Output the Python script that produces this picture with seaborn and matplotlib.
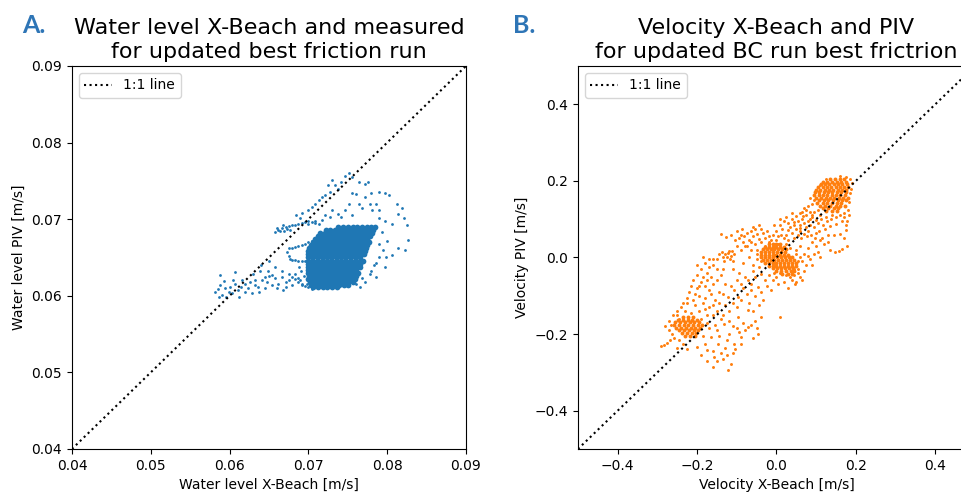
import matplotlib
matplotlib.use("Agg")
import matplotlib.pyplot as plt
import seaborn as sns
import pandas as pd

# ---------------- Panel A data (water level, m/s as labelled) ----------------
one_to_one_a = [0.04, 0.09]

# dense core of panel A, read row by row: (PIV value, X-Beach values)
a_core_rows = [
    (0.0690, [0.0738, 0.0744, 0.0750, 0.0756, 0.0762, 0.0768, 0.0774, 0.0780, 0.0785]),
    (0.0686, [0.0722, 0.0728, 0.0734, 0.0740, 0.0746, 0.0752, 0.0758, 0.0764, 0.0770, 0.0776, 0.0782]),
    (0.0682, [0.0715, 0.0721, 0.0727, 0.0733, 0.0739, 0.0745, 0.0751, 0.0757, 0.0763, 0.0769, 0.0775, 0.0781]),
    (0.0678, [0.0712, 0.0718, 0.0724, 0.0730, 0.0736, 0.0742, 0.0748, 0.0754, 0.0760, 0.0766, 0.0772, 0.0778]),
    (0.0674, [0.0709, 0.0715, 0.0721, 0.0727, 0.0733, 0.0739, 0.0745, 0.0751, 0.0757, 0.0763, 0.0769, 0.0775]),
    (0.0670, [0.0706, 0.0712, 0.0718, 0.0724, 0.0730, 0.0736, 0.0742, 0.0748, 0.0754, 0.0760, 0.0766, 0.0772, 0.0777]),
    (0.0666, [0.0703, 0.0709, 0.0715, 0.0721, 0.0727, 0.0733, 0.0739, 0.0745, 0.0751, 0.0757, 0.0763, 0.0769, 0.0775]),
    (0.0662, [0.0701, 0.0707, 0.0713, 0.0719, 0.0725, 0.0731, 0.0737, 0.0743, 0.0749, 0.0755, 0.0761, 0.0767, 0.0773]),
    (0.0658, [0.0700, 0.0706, 0.0712, 0.0718, 0.0724, 0.0730, 0.0736, 0.0742, 0.0748, 0.0754, 0.0760, 0.0766, 0.0772]),
    (0.0654, [0.0699, 0.0705, 0.0711, 0.0717, 0.0723, 0.0729, 0.0735, 0.0741, 0.0747, 0.0753, 0.0759, 0.0765, 0.0770]),
    (0.0650, [0.0700, 0.0706, 0.0712, 0.0718, 0.0724, 0.0730, 0.0736, 0.0742, 0.0748, 0.0754, 0.0760, 0.0766]),
    (0.0646, [0.0699, 0.0705, 0.0711, 0.0717, 0.0723, 0.0729, 0.0735, 0.0741, 0.0747, 0.0753, 0.0759, 0.0765, 0.0769]),
    (0.0642, [0.0700, 0.0706, 0.0712, 0.0718, 0.0724, 0.0730, 0.0736, 0.0742, 0.0748, 0.0754, 0.0760, 0.0766]),
    (0.0638, [0.0699, 0.0705, 0.0711, 0.0717, 0.0723, 0.0729, 0.0735, 0.0741, 0.0747, 0.0753, 0.0759, 0.0765]),
    (0.0634, [0.0700, 0.0706, 0.0712, 0.0718, 0.0724, 0.0730, 0.0736, 0.0742, 0.0748, 0.0754, 0.0760]),
    (0.0630, [0.0699, 0.0705, 0.0711, 0.0717, 0.0723, 0.0729, 0.0735, 0.0741, 0.0747, 0.0753, 0.0759, 0.0763]),
    (0.0626, [0.0701, 0.0707, 0.0713, 0.0719, 0.0725, 0.0731, 0.0737, 0.0743, 0.0749, 0.0755, 0.0761]),
    (0.0622, [0.0700, 0.0706, 0.0712, 0.0718, 0.0724, 0.0730, 0.0736, 0.0742, 0.0748, 0.0754, 0.0759]),
    (0.0618, [0.0702, 0.0708, 0.0714, 0.0720, 0.0726, 0.0732, 0.0738, 0.0744, 0.0750, 0.0756]),
    (0.0614, [0.0703, 0.0709, 0.0715, 0.0721, 0.0727, 0.0733, 0.0739, 0.0745, 0.0750]),
    (0.0611, [0.0706, 0.0712, 0.0718, 0.0724, 0.0730, 0.0736]),
]

a_sparse_x = [
    0.0747, 0.0755, 0.0764, 0.0776, 0.0772, 0.0730, 0.0734, 0.0738, 0.0721, 0.0727, 0.0717, 0.0713,
    0.0742, 0.0751, 0.0725, 0.0709, 0.0704, 0.0700,
    0.0755, 0.0761, 0.0772, 0.0780, 0.0789, 0.0797, 0.0802, 0.0751, 0.0764, 0.0778, 0.0786, 0.0768,
    0.0781, 0.0789, 0.0812, 0.0819, 0.0814, 0.0821, 0.0825, 0.0797, 0.0806, 0.0789, 0.0827, 0.0814,
    0.0823, 0.0806, 0.0799, 0.0789, 0.0797, 0.0786, 0.0778, 0.0768, 0.0761, 0.0793, 0.0800, 0.0790,
    0.0795, 0.0786, 0.0783, 0.0779, 0.0772, 0.0765,
    0.0730, 0.0738, 0.0742, 0.0755, 0.0728, 0.0721, 0.0717, 0.0709, 0.0700, 0.0690, 0.0684, 0.0692, 0.0746,
    0.0662, 0.0666, 0.0671, 0.0675, 0.0679, 0.0683, 0.0687, 0.0692, 0.0696, 0.0700, 0.0704, 0.0709,
    0.0713, 0.0664, 0.0669, 0.0673, 0.0668, 0.0677, 0.0658, 0.0660,
    0.0675, 0.0679, 0.0683, 0.0687, 0.0692, 0.0696, 0.0700, 0.0704, 0.0709, 0.0713, 0.0673, 0.0675,
    0.0677, 0.0679, 0.0683, 0.0687, 0.0692, 0.0696, 0.0688, 0.0691, 0.0694,
    0.0683, 0.0687, 0.0692, 0.0696, 0.0700, 0.0704, 0.0690, 0.0698,
    0.0582, 0.0588, 0.0594, 0.0601, 0.0607, 0.0611, 0.0620, 0.0624, 0.0632, 0.0641, 0.0645, 0.0654,
    0.0658, 0.0666, 0.0671, 0.0675, 0.0679, 0.0654, 0.0637, 0.0628, 0.0620, 0.0603, 0.0590, 0.0586,
    0.0599, 0.0616, 0.0649, 0.0658, 0.0666, 0.0675, 0.0683, 0.0687, 0.0662, 0.0679, 0.0671, 0.0692,
    0.0645, 0.0588, 0.0607, 0.0630, 0.0640, 0.0650, 0.0632, 0.0612, 0.0596,
    0.0615, 0.0626, 0.0636, 0.0647, 0.0660, 0.0668, 0.0604, 0.0593, 0.0585, 0.0650, 0.0639,
]
a_sparse_y = [
    0.0757, 0.0755, 0.0749, 0.0749, 0.0746, 0.0751, 0.0744, 0.0740, 0.0731, 0.0736, 0.0729, 0.0725,
    0.0748, 0.0760, 0.0744, 0.0720, 0.0716, 0.0712,
    0.0734, 0.0733, 0.0729, 0.0734, 0.0736, 0.0734, 0.0731, 0.0720, 0.0720, 0.0720, 0.0720, 0.0714,
    0.0712, 0.0712, 0.0720, 0.0714, 0.0707, 0.0701, 0.0692, 0.0697, 0.0694, 0.0701, 0.0673, 0.0662,
    0.0660, 0.0653, 0.0651, 0.0651, 0.0638, 0.0625, 0.0629, 0.0623, 0.0616, 0.0683, 0.0672, 0.0667,
    0.0660, 0.0643, 0.0640, 0.0633, 0.0618, 0.0612,
    0.0712, 0.0707, 0.0703, 0.0705, 0.0703, 0.0705, 0.0699, 0.0697, 0.0694, 0.0701, 0.0705, 0.0708, 0.0712,
    0.0686, 0.0688, 0.0690, 0.0691, 0.0692, 0.0693, 0.0694, 0.0695, 0.0696, 0.0697, 0.0696, 0.0695,
    0.0694, 0.0684, 0.0685, 0.0687, 0.0692, 0.0686, 0.0683, 0.0688,
    0.0662, 0.0663, 0.0664, 0.0665, 0.0666, 0.0668, 0.0670, 0.0671, 0.0673, 0.0675, 0.0657, 0.0652,
    0.0648, 0.0647, 0.0647, 0.0646, 0.0646, 0.0645, 0.0638, 0.0632, 0.0626,
    0.0622, 0.0618, 0.0615, 0.0613, 0.0611, 0.0609, 0.0620, 0.0616,
    0.0605, 0.0614, 0.0610, 0.0612, 0.0616, 0.0607, 0.0616, 0.0610, 0.0614, 0.0620, 0.0625, 0.0627,
    0.0623, 0.0625, 0.0618, 0.0620, 0.0625, 0.0614, 0.0605, 0.0603, 0.0605, 0.0603, 0.0601, 0.0599,
    0.0605, 0.0620, 0.0633, 0.0638, 0.0633, 0.0629, 0.0629, 0.0623, 0.0616, 0.0614, 0.0612, 0.0614,
    0.0610, 0.0627, 0.0631, 0.0628, 0.0640, 0.0645, 0.0620, 0.0598, 0.0598,
    0.0611, 0.0618, 0.0611, 0.0618, 0.0610, 0.0608, 0.0621, 0.0619, 0.0609, 0.0626, 0.0633,
]

# ---------------- Panel B data (velocity, m/s) ----------------
one_to_one_b = [-0.5, 0.5]

b_dense_rows = [
    # top-right cluster
    (0.205, [0.135, 0.148, 0.160, 0.170]),
    (0.198, [0.118, 0.128, 0.140, 0.152, 0.163, 0.175]),
    (0.191, [0.112, 0.122, 0.133, 0.144, 0.155, 0.166, 0.178]),
    (0.184, [0.105, 0.116, 0.127, 0.138, 0.149, 0.160, 0.171, 0.181]),
    (0.177, [0.100, 0.110, 0.121, 0.132, 0.143, 0.154, 0.165, 0.176]),
    (0.170, [0.098, 0.108, 0.119, 0.130, 0.141, 0.152, 0.163, 0.174]),
    (0.163, [0.095, 0.106, 0.117, 0.128, 0.139, 0.150, 0.161, 0.172]),
    (0.156, [0.100, 0.112, 0.124, 0.135, 0.146, 0.157, 0.168, 0.179]),
    (0.149, [0.108, 0.120, 0.131, 0.143, 0.154, 0.165, 0.176]),
    (0.142, [0.103, 0.116, 0.128, 0.140, 0.152, 0.163]),
    (0.135, [0.110, 0.123, 0.136, 0.149, 0.160, 0.172]),
    (0.128, [0.118, 0.131, 0.144, 0.156]),
    (0.121, [0.125, 0.140, 0.152]),
    # middle cluster
    (0.035, [-0.020, -0.010, 0.000, 0.010]),
    (0.028, [-0.030, -0.020, -0.010, 0.000, 0.010, 0.018]),
    (0.021, [-0.035, -0.025, -0.015, -0.005, 0.005, 0.015, 0.025]),
    (0.014, [-0.038, -0.028, -0.018, -0.008, 0.002, 0.012, 0.022]),
    (0.007, [-0.040, -0.030, -0.020, -0.010, 0.000, 0.010, 0.020, 0.030]),
    (0.000, [-0.038, -0.028, -0.018, -0.008, 0.002, 0.012, 0.022, 0.032, 0.040]),
    (-0.007, [-0.035, -0.025, -0.015, -0.005, 0.005, 0.015, 0.025, 0.035, 0.045]),
    (-0.014, [-0.030, -0.020, -0.010, 0.000, 0.010, 0.020, 0.030, 0.040, 0.048]),
    (-0.021, [-0.020, -0.010, 0.000, 0.010, 0.020, 0.030, 0.040, 0.048]),
    (-0.028, [-0.010, 0.002, 0.012, 0.022, 0.032, 0.042]),
    (-0.035, [0.000, 0.012, 0.024, 0.036, 0.045]),
    (-0.042, [0.015, 0.028, 0.040]),
    # lower-left cluster
    (-0.155, [-0.235, -0.222, -0.210]),
    (-0.162, [-0.248, -0.236, -0.224, -0.212, -0.200]),
    (-0.169, [-0.255, -0.243, -0.231, -0.219, -0.207, -0.195]),
    (-0.176, [-0.258, -0.246, -0.234, -0.222, -0.210, -0.198, -0.188]),
    (-0.183, [-0.252, -0.240, -0.228, -0.216, -0.204, -0.192]),
    (-0.190, [-0.245, -0.233, -0.221, -0.209, -0.197]),
    (-0.197, [-0.238, -0.226, -0.214, -0.202]),
    (-0.204, [-0.230, -0.218, -0.206]),
]

b_sparse_x = [
    # around the top cluster
    0.080, 0.070, 0.085, 0.060, 0.075, 0.090, 0.100, 0.112, 0.125, 0.140, 0.170, 0.178, 0.180, 0.183,
    0.186, 0.165, 0.150, 0.135, 0.122, 0.174, 0.160, 0.145, 0.178, 0.165, 0.157, 0.148, 0.170, 0.130,
    0.115, 0.100,
    0.118, 0.128, 0.138, 0.150, 0.160, 0.170, 0.175, 0.182, 0.188, 0.190, 0.185, 0.175, 0.160, 0.125,
    0.110, 0.095, 0.090, 0.085,
    # band above the line between middle and top
    0.000, 0.010, 0.020, 0.015, 0.030, 0.040, 0.050, 0.035, 0.045, 0.055, 0.065, 0.060, 0.070, 0.080,
    0.025, 0.040, 0.050, 0.060, 0.075, 0.085, 0.090, 0.005, 0.020, 0.030, 0.045, 0.055, 0.070, 0.080,
    0.095, 0.105, -0.005, 0.010, 0.025, 0.040, 0.065, 0.075,
    -0.015, 0.000, 0.012, 0.028, 0.045, 0.058, 0.068, 0.085, 0.095, 0.105, 0.110, 0.062, 0.078, 0.088,
    0.098, 0.108,
    # below the line right of the middle
    0.050, 0.060, 0.070, 0.080, 0.090, 0.100, 0.110, 0.120, 0.130, 0.065, 0.075, 0.085, 0.095, 0.105,
    0.055, 0.045, 0.060, 0.050, 0.040, 0.090, 0.110, 0.135, 0.070, 0.047, 0.080,
    0.055, 0.060, 0.050, 0.045, 0.035, 0.025, 0.010, 0.055, 0.065, 0.030, 0.020, -0.005,
    # upper-left of the middle
    -0.100, -0.090, -0.081, -0.075, -0.065, -0.060, -0.050, -0.045, -0.070, -0.085, -0.095, -0.055,
    -0.040, -0.030, -0.035, -0.020, -0.060, -0.045, -0.075, -0.065, -0.050, -0.105, -0.140, -0.127,
    -0.115, -0.088, -0.025, -0.010,
    -0.030, -0.050, -0.065, -0.080, -0.090, -0.100, -0.055, -0.040, -0.020, 0.005, 0.025, 0.035,
    -0.138, -0.130, -0.122, -0.115, -0.108, -0.125, -0.118, -0.132, -0.110, -0.135, -0.120, -0.112,
    # left arm
    -0.180, -0.170, -0.160, -0.150, -0.190, -0.200, -0.175, -0.165, -0.210, -0.190, -0.180, -0.200,
    -0.220, -0.170, -0.160, -0.150, -0.140, -0.195, -0.210, -0.180, -0.165, -0.225, -0.205, -0.185,
    -0.170, -0.230, -0.215, -0.195, -0.240, -0.250, -0.155, -0.145, -0.130, -0.135, -0.160, -0.185,
    -0.200, -0.175, -0.215,
    -0.150, -0.145, -0.170, -0.185, -0.195, -0.205, -0.225, -0.235, -0.180, -0.160, -0.150, -0.135,
    -0.160, -0.175, -0.190,
    # tail of lower-left cluster
    -0.284, -0.275, -0.268, -0.262, -0.270, -0.280, -0.258, -0.245, -0.235, -0.250, -0.225, -0.290,
    -0.270, -0.265, -0.260, -0.250, -0.245,
    # below the line, lower part
    -0.174, -0.157, -0.123, -0.114, -0.106, -0.089, -0.072, -0.055, -0.047, -0.038, -0.072, -0.098,
    -0.131, -0.148, -0.165, -0.199, -0.174, -0.140, -0.180, -0.150, -0.120, -0.100, -0.085, -0.130,
    -0.160, -0.110, -0.190, -0.170, -0.140, 0.008, -0.125, -0.060, -0.045, -0.160,
    -0.120, -0.110, -0.095, -0.080, -0.065, -0.050, -0.060, -0.090, -0.105, -0.135, -0.150, -0.125,
    -0.145, -0.155, -0.185, -0.175,
    # along the line between lower-left and middle
    -0.106, -0.089, -0.072, -0.055, -0.038, -0.123, -0.098, -0.064, -0.047, -0.030, -0.020, -0.080,
    -0.060, -0.045, -0.100, -0.115, -0.135, -0.145, -0.110, -0.090, -0.075, -0.055, -0.040, -0.025,
    -0.010, 0.000, -0.070, -0.085, -0.120, -0.100, -0.065, -0.035, -0.015, 0.005, -0.130, -0.095,
    -0.110, -0.050, -0.070, -0.085, -0.060, -0.040,
]
b_sparse_y = [
    0.135, 0.128, 0.120, 0.115, 0.110, 0.105, 0.098, 0.100, 0.105, 0.110, 0.115, 0.096, 0.125, 0.145,
    0.168, 0.095, 0.088, 0.082, 0.075, 0.071, 0.062, 0.058, 0.031, 0.023, 0.018, 0.014, 0.050, 0.060,
    0.052, 0.065,
    0.085, 0.095, 0.100, 0.105, 0.110, 0.105, 0.085, 0.110, 0.180, 0.195, 0.205, 0.210, 0.212, 0.205,
    0.190, 0.150, 0.140, 0.155,
    0.070, 0.085, 0.095, 0.075, 0.090, 0.100, 0.108, 0.080, 0.085, 0.095, 0.100, 0.085, 0.090, 0.095,
    0.060, 0.065, 0.075, 0.070, 0.080, 0.085, 0.110, 0.055, 0.050, 0.045, 0.050, 0.058, 0.062, 0.068,
    0.080, 0.090, 0.085, 0.100, 0.105, 0.115, 0.118, 0.125,
    0.045, 0.045, 0.060, 0.072, 0.092, 0.078, 0.108, 0.100, 0.118, 0.125, 0.110, 0.050, 0.055, 0.060,
    0.052, 0.070,
    0.020, 0.030, 0.010, 0.025, 0.040, 0.030, 0.045, 0.035, 0.040, -0.010, -0.020, -0.005, 0.010, 0.015,
    -0.030, -0.045, -0.050, -0.065, -0.060, -0.020, 0.000, 0.020, -0.035, -0.068, 0.005,
    -0.010, 0.000, 0.010, -0.030, -0.050, -0.045, -0.040, -0.040, -0.060, -0.080, -0.065, -0.040,
    0.070, 0.060, 0.057, 0.065, 0.070, 0.055, 0.062, 0.048, 0.045, 0.040, 0.050, 0.035,
    0.040, 0.050, 0.065, 0.055, 0.080, 0.085, 0.030, 0.020, 0.020, 0.045, 0.062, 0.053,
    0.060, 0.075, 0.070, 0.060,
    0.030, 0.010, 0.040, 0.030, 0.020, 0.030, 0.075, 0.075, 0.040, 0.035, 0.035, 0.025,
    0.015, 0.008, 0.012, 0.005, 0.010, 0.000, -0.005, -0.008, -0.010, 0.002, 0.018, 0.016,
    -0.015, -0.005, -0.020, -0.030, -0.030, -0.045, -0.040, -0.050, -0.060, -0.065, -0.075, -0.080,
    -0.090, -0.085, -0.070, -0.060, -0.045, -0.100, -0.110, -0.105, -0.095, -0.120, -0.125, -0.120,
    -0.130, -0.140, -0.145, -0.140, -0.130, -0.150, -0.110, -0.090, -0.070, -0.030, -0.005, 0.000,
    -0.020, -0.060, -0.075,
    -0.005, 0.010, -0.025, -0.050, -0.075, -0.095, -0.105, -0.120, -0.135, -0.125, -0.140, -0.150,
    -0.150, -0.150, -0.160,
    -0.229, -0.222, -0.215, -0.200, -0.190, -0.180, -0.210, -0.215, -0.225, -0.235, -0.240, -0.232,
    -0.165, -0.175, -0.150, -0.140, -0.160,
    -0.242, -0.260, -0.295, -0.277, -0.225, -0.208, -0.182, -0.165, -0.199, -0.155, -0.138, -0.155,
    -0.173, -0.225, -0.208, -0.234, -0.269, -0.250, -0.225, -0.190, -0.200, -0.185, -0.170, -0.235,
    -0.245, -0.250, -0.255, -0.185, -0.160, -0.155, -0.215, -0.140, -0.125, -0.285,
    -0.165, -0.180, -0.195, -0.190, -0.175, -0.185, -0.210, -0.225, -0.240, -0.265, -0.270, -0.255,
    -0.205, -0.175, -0.205, -0.170,
    -0.086, -0.068, -0.060, -0.051, -0.043, -0.103, -0.103, -0.086, -0.077, -0.060, -0.045, -0.050,
    -0.035, -0.025, -0.060, -0.075, -0.095, -0.120, -0.120, -0.110, -0.095, -0.100, -0.090, -0.075,
    -0.060, -0.050, -0.120, -0.080, -0.140, -0.130, -0.070, -0.110, -0.085, -0.070, -0.125, -0.040,
    -0.030, -0.005, 0.000, -0.015, -0.020, -0.010,
]


def rows_to_frame(rows):
    xs, ys = [], []
    for yv, xvals in rows:
        xs.extend(xvals)
        ys.extend([yv] * len(xvals))
    return pd.DataFrame({"x": xs, "y": ys})


a_core = rows_to_frame(a_core_rows)
a_sparse = pd.DataFrame({"x": a_sparse_x, "y": a_sparse_y})
b_dense = rows_to_frame(b_dense_rows)
b_sparse = pd.DataFrame({"x": b_sparse_x, "y": b_sparse_y})

BLUE = "#1f77b4"
ORANGE = "#ff7f0e"

fig = plt.figure(figsize=(9.62, 4.94), dpi=100)
ax1 = fig.add_axes([0.0748, 0.0911, 0.4096, 0.7753])
ax2 = fig.add_axes([0.6008, 0.0911, 0.4127, 0.7753])

# Panel A
sns.scatterplot(data=a_core, x="x", y="y", ax=ax1, color=BLUE, s=17, linewidth=0, legend=False)
sns.scatterplot(data=a_sparse, x="x", y="y", ax=ax1, color=BLUE, s=4, linewidth=0, legend=False)
sns.lineplot(x=one_to_one_a, y=one_to_one_a, ax=ax1, color="black", linestyle=":", linewidth=1.5,
             label="1:1 line")
ax1.set_xlim(0.04, 0.09)
ax1.set_ylim(0.04, 0.09)
ax1.set_xticks([0.04, 0.05, 0.06, 0.07, 0.08, 0.09])
ax1.set_yticks([0.04, 0.05, 0.06, 0.07, 0.08, 0.09])
ax1.set_xlabel("Water level X-Beach [m/s]", fontsize=10)
ax1.set_ylabel("Water level PIV [m/s]", fontsize=10)
ax1.set_title("Water level X-Beach and measured\nfor updated best friction run", fontsize=16)
ax1.legend(loc="upper left", fontsize=10)

# Panel B
sns.scatterplot(data=b_dense, x="x", y="y", ax=ax2, color=ORANGE, s=8, linewidth=0, legend=False)
sns.scatterplot(data=b_sparse, x="x", y="y", ax=ax2, color=ORANGE, s=4.5, linewidth=0, legend=False)
sns.lineplot(x=one_to_one_b, y=one_to_one_b, ax=ax2, color="black", linestyle=":", linewidth=1.5,
             label="1:1 line")
ax2.set_xlim(-0.5, 0.5)
ax2.set_ylim(-0.5, 0.5)
ax2.set_xticks([-0.4, -0.2, 0.0, 0.2, 0.4])
ax2.set_yticks([-0.4, -0.2, 0.0, 0.2, 0.4])
ax2.set_xlabel("Velocity X-Beach [m/s]", fontsize=10)
ax2.set_ylabel("Velocity PIV [m/s]", fontsize=10)
ax2.set_title("Velocity X-Beach and PIV\nfor updated BC run best frictrion", fontsize=16)
ax2.legend(loc="upper left", fontsize=10)

for ax in (ax1, ax2):
    ax.tick_params(labelsize=10)

fig.text(22 / 962, 1 - 33 / 494, "A.", color="#2E75B6", fontsize=18, fontweight="bold",
         family="Lato", va="baseline", ha="left")
fig.text(513 / 962, 1 - 33 / 494, "B.", color="#2E75B6", fontsize=18, fontweight="bold",
         family="Lato", va="baseline", ha="left")

fig.savefig("out.png", dpi=100)
